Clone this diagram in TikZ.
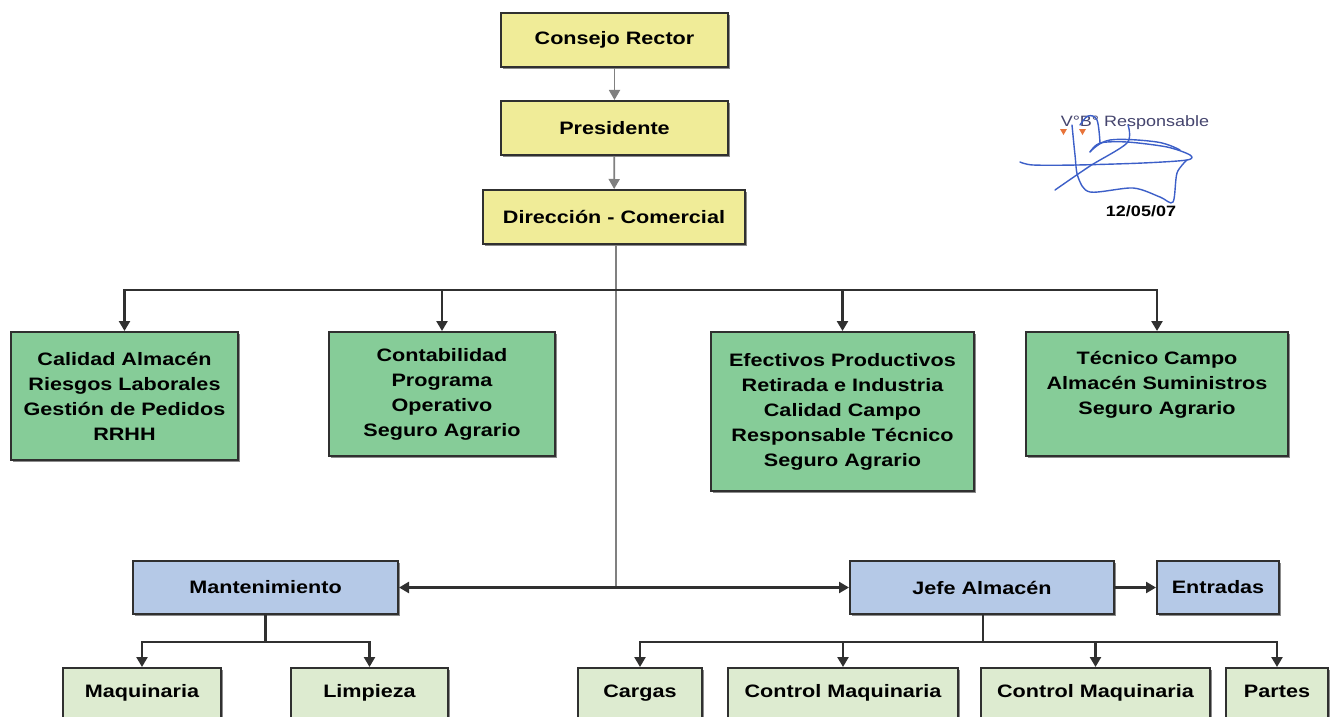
\documentclass[tikz,border=0pt]{standalone}
\usepackage{fontspec}
\setmainfont[FakeStretch=1.2]{Liberation Sans}
\usetikzlibrary{arrows.meta,shadows}
\definecolor{cyel}{HTML}{F0EC98}
\definecolor{cgrn}{HTML}{86CC98}
\definecolor{cblu}{HTML}{B5C9E7}
\definecolor{clgr}{HTML}{DDEBD0}
\definecolor{cline}{HTML}{303030}
\definecolor{cthin}{HTML}{808080}
\definecolor{csig}{HTML}{3C5FC8}
\definecolor{csigt}{HTML}{45456E}
\definecolor{corg}{HTML}{E8743A}
\begin{document}
\begin{tikzpicture}[x=1pt,y=-1pt,
  box/.style={draw=cline, line width=2pt, inner sep=0pt, align=center,
    font=\bfseries\fontsize{18}{25}\selectfont,
    drop shadow={shadow xshift=2pt, shadow yshift=-2pt, fill=black, opacity=0.45}},
  ybox/.style={box, fill=cyel, minimum height=54pt},
  gbox/.style={box, fill=cgrn},
  bbox/.style={box, fill=cblu, minimum height=53pt},
  lbox/.style={box, fill=clgr, anchor=north, text height=29pt, text depth=55pt},
  txt/.style={align=center, font=\bfseries\fontsize{18}{25}\selectfont, inner sep=0pt},
  conn/.style={draw=cline, line width=2.4pt},
  thin/.style={draw=cthin, line width=1.8pt},
  arr/.style={-{Triangle[length=10pt,width=11pt]}},
  sig/.style={draw=csig, line width=1.4pt, line cap=round, line join=round}]
\useasboundingbox (0,0) rectangle (1334,717);
\clip (0,0) rectangle (1334,717);
\fill[white] (0,0) rectangle (1334,717);

% top chain
\node[ybox, minimum width=227pt] (cr) at (614.5,40) {Consejo Rector};
\node[ybox, minimum width=227pt] (pres) at (614.5,128) {Presidente};
\node[ybox, minimum width=262pt] (dir) at (614,217) {Dirección - Comercial};

% green boxes
\node[gbox, minimum width=227pt, minimum height=128pt] (b1) at (124.5,396)
  {Calidad Almacén\\Riesgos Laborales\\Gestión de Pedidos\\RRHH};
\node[gbox, minimum width=226pt, minimum height=124pt] (b2) at (442,394)
  {Contabilidad\\Programa\\Operativo\\Seguro Agrario};
\node[gbox, minimum width=263pt, minimum height=159pt] (b3) at (842.5,411.5)
  {Efectivos Productivos\\Retirada e Industria\\Calidad Campo\\Responsable Técnico\\Seguro Agrario};
\node[gbox, minimum width=262pt, minimum height=124pt] (b4) at (1157,394) {};
\node[txt] (b4t) at (1157,385) {Técnico Campo\\Almacén Suministros\\Seguro Agrario};

% blue boxes
\node[bbox, minimum width=265pt] (mant) at (265.5,587.5) {Mantenimiento};
\node[bbox, minimum width=264pt] (jefe) at (982,587.5) {Jefe Almacén};
\node[bbox, minimum width=122pt] (entr) at (1218,587.5) {Entradas};

% bottom boxes
\node[lbox, minimum width=158pt] (maq) at (142,667) {Maquinaria};
\node[lbox, minimum width=157pt] (lim) at (369.5,667) {Limpieza};
\node[lbox, minimum width=124pt] (car) at (640,667) {Cargas};
\node[lbox, minimum width=230pt] (cm1) at (843,667) {Control Maquinaria};
\node[lbox, minimum width=229pt] (cm2) at (1095.5,667) {Control Maquinaria};
\node[lbox, minimum width=102pt] (par) at (1277,667) {Partes};

% connectors
\draw[thin, arr] (cr) -- (pres);
\draw[thin, arr] (pres) -- (dir);
\coordinate (hub) at (616,290);
\coordinate (hubb) at (616,588);
\draw[thin] (dir.south -| hub) -- (hubb);
\draw[conn, arr] (hub) -| (b1.north);
\draw[conn, arr] (hub) -| (b2.north);
\draw[conn, arr] (hub) -| (b3.north);
\draw[conn, arr] (hub) -| (b4.north);
\draw[conn, {Triangle[length=10pt,width=11pt]}-{Triangle[length=10pt,width=11pt]}] (mant.east) -- (jefe.west);
\draw[conn, arr] (jefe.east) -- (entr.west);

\coordinate (mj) at (265.5,642);
\draw[conn] (mant.south) -- (mj);
\draw[conn, arr] (mj) -| (maq.north);
\draw[conn, arr] (mj) -| (lim.north);

\coordinate (jj) at (983,642);
\draw[conn] (jefe.south -| jj) -- (jj);
\draw[conn, arr] (jj) -| (car.north);
\draw[conn, arr] (jj) -| (cm1.north);
\draw[conn, arr] (jj) -| (cm2.north);
\draw[conn, arr] (jj) -| (par.north);

% signature stamp
\node[text=csigt, font=\fontsize{15}{18}\selectfont, inner sep=0pt] (vb) at (1135,123) {V°B° Responsable};
\fill[corg] (1060,129) -- (1067,129) -- (1063.5,135) -- cycle;
\fill[corg] (1079,129) -- (1086,129) -- (1082.5,135) -- cycle;
\draw[sig] plot[smooth, tension=0.5] coordinates {(1020,162) (1033,165) (1077,165) (1143,163) (1187,160) (1190,155) (1167,147) (1127,142) (1100,143) (1090,152)};
\draw[sig] plot[smooth, tension=0.5] coordinates {(1055,190) (1090,166) (1127,143) (1128,125)};
\draw[sig] plot[smooth, tension=0.5] coordinates {(1072,125) (1075,155) (1078,177) (1090,192) (1133,188) (1160,197) (1173,202) (1177,173) (1187,160)};
\draw[sig] plot[smooth, tension=0.6] coordinates {(1090,152) (1110,140) (1157,142) (1180,150)};
\draw[sig] plot[smooth, tension=0.6] coordinates {(1080,125) (1088,116) (1097,120) (1100,143)};
\node[font=\bfseries\fontsize{15}{18}\selectfont, inner sep=0pt] (date) at (1141,211) {12/05/07};
\end{tikzpicture}
\end{document}
